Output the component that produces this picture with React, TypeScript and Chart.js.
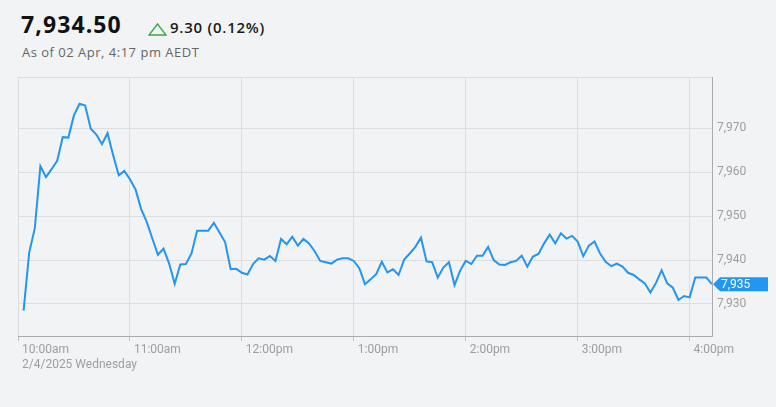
import React, { useEffect, useRef } from "react";
import { Chart, registerables } from "chart.js";

Chart.register(...registerables);

// ---- data ----
const times: string[] = [
  "10:03", "10:06", "10:09", "10:12", "10:15", "10:18", "10:21", "10:24", "10:27", "10:30",
  "10:33", "10:36", "10:39", "10:42", "10:45", "10:48", "10:51", "10:54", "10:57", "11:00",
  "11:03", "11:06", "11:09", "11:12", "11:15", "11:18", "11:21", "11:24", "11:27", "11:30",
  "11:33", "11:36", "11:39", "11:42", "11:45", "11:48", "11:51", "11:54", "11:57", "12:00",
  "12:03", "12:06", "12:09", "12:12", "12:15", "12:18", "12:21", "12:24", "12:27", "12:30",
  "12:33", "12:36", "12:39", "12:42", "12:45", "12:48", "12:51", "12:54", "12:57", "13:00",
  "13:03", "13:06", "13:09", "13:12", "13:15", "13:18", "13:21", "13:24", "13:27", "13:30",
  "13:33", "13:36", "13:39", "13:42", "13:45", "13:48", "13:51", "13:54", "13:57", "14:00",
  "14:03", "14:06", "14:09", "14:12", "14:15", "14:18", "14:21", "14:24", "14:27", "14:30",
  "14:33", "14:36", "14:39", "14:42", "14:45", "14:48", "14:51", "14:54", "14:57", "15:00",
  "15:03", "15:06", "15:09", "15:12", "15:15", "15:18", "15:21", "15:24", "15:27", "15:30",
  "15:33", "15:36", "15:39", "15:42", "15:45", "15:48", "15:51", "15:54", "15:57", "16:00",
  "16:03", "16:06", "16:09", "16:12",
];

const values: number[] = [
  7928.5, 7941.7, 7947.2, 7961.4, 7958.9, 7960.7, 7962.6, 7968.0, 7967.9, 7973.0,
  7975.6, 7975.2, 7969.9, 7968.6, 7966.4, 7968.9, 7963.9, 7959.3, 7960.3, 7958.4,
  7956.1, 7951.6, 7948.7, 7944.9, 7941.2, 7942.6, 7939.2, 7934.6, 7939.0, 7939.1,
  7941.5, 7946.7, 7946.7, 7946.7, 7948.5, 7946.3, 7944.1, 7937.9, 7938.0, 7937.1,
  7936.7, 7939.1, 7940.4, 7940.1, 7940.9, 7939.8, 7944.8, 7943.6, 7945.3, 7943.3,
  7944.8, 7943.8, 7942.0, 7939.8, 7939.5, 7939.2, 7940.1, 7940.4, 7940.4, 7939.8,
  7938.1, 7934.5, 7935.6, 7936.8, 7939.6, 7937.2, 7937.9, 7936.6, 7940.1, 7941.5,
  7943.0, 7945.1, 7939.7, 7939.5, 7936.0, 7938.3, 7939.5, 7934.3, 7937.6, 7939.8,
  7939.1, 7941.0, 7941.0, 7943.0, 7940.0, 7939.0, 7938.9, 7939.5, 7939.8, 7941.0,
  7938.5, 7940.8, 7941.4, 7943.8, 7945.8, 7943.8, 7946.1, 7944.9, 7945.5, 7944.2,
  7940.9, 7943.3, 7944.2, 7941.5, 7939.6, 7938.6, 7939.2, 7938.5, 7937.1, 7936.6,
  7935.6, 7934.7, 7932.6, 7934.8, 7937.7, 7934.7, 7933.7, 7930.9, 7931.8, 7931.5,
  7936.0, 7936.0, 7936.0, 7934.5,
];

const hourTicks: string[] = ["10:00", "11:00", "12:00", "13:00", "14:00", "15:00", "16:00"];
const hourLabels: string[] = ["10:00am", "11:00am", "12:00pm", "1:00pm", "2:00pm", "3:00pm", "4:00pm"];
const dateLabel = "2/4/2025 Wednesday";
const yTicks: number[] = [7930, 7940, 7950, 7960, 7970];
const tagLabel = "7,935";

const priceText = "7,934.50";
const changeText = "9.30 (0.12%)";
const asOfText = "As of 02 Apr, 4:17 pm AEDT";

const X_START = "10:00";
const X_END = "16:12";
const Y_MIN = 7922.7;
const Y_MAX = 7981.7;

const toMin = (t: string) => {
  const [h, m] = t.split(":").map(Number);
  const [h0, m0] = X_START.split(":").map(Number);
  return (h - h0) * 60 + (m - m0);
};

const LINE = "#2196f3";
const GRID = "#dcdddf";
const AXIS = "#a9aaac";
const TEXT = "#9e9e9e";
const BG = "#f2f3f5";

const tagPlugin = {
  id: "lastTag",
  afterDatasetsDraw(chart: any) {
    const { ctx, chartArea } = chart;
    const y = chart.scales.y.getPixelForValue(values[values.length - 1]);
    const x0 = chartArea.right + 1;
    const h = 7;
    ctx.save();
    ctx.fillStyle = LINE;
    ctx.beginPath();
    ctx.moveTo(x0, y);
    ctx.lineTo(x0 + 7, y - h);
    ctx.lineTo(768, y - h);
    ctx.lineTo(768, y + h);
    ctx.lineTo(x0 + 7, y + h);
    ctx.closePath();
    ctx.fill();
    ctx.fillStyle = "#ffffff";
    ctx.font = "12px Roboto";
    ctx.textBaseline = "middle";
    ctx.textAlign = "left";
    ctx.fillText(tagLabel, x0 + 8, y + 0.5);
    ctx.restore();
  },
};

export default function App() {
  const ref = useRef<HTMLCanvasElement | null>(null);

  useEffect(() => {
    if (!ref.current) return;
    const chart = new Chart(ref.current, {
      type: "line",
      data: {
        datasets: [
          {
            data: times.map((t, i) => ({ x: toMin(t), y: values[i] })),
            borderColor: LINE,
            borderWidth: 2,
            pointRadius: 0,
            tension: 0,
            fill: false,
          },
        ],
      },
      options: {
        animation: false,
        responsive: true,
        maintainAspectRatio: false,
        layout: { padding: { left: 18, top: 77, right: 0, bottom: 0 } },
        plugins: { legend: { display: false }, tooltip: { enabled: false } },
        scales: {
          x: {
            type: "linear",
            min: toMin(X_START),
            max: toMin(X_END),
            afterBuildTicks: (s: any) => {
              s.ticks = hourTicks.map((t) => ({ value: toMin(t) }));
            },
            afterFit: (s: any) => {
              s.height = 71;
            },
            ticks: {
              autoSkip: false,
              maxRotation: 0,
              align: "start",
              labelOffset: 4,
              padding: 1,
              color: TEXT,
              font: { family: "Roboto", size: 12, lineHeight: 1.25 },
              callback: (_v: any, i: number) => (i === 0 ? [hourLabels[0], dateLabel] : hourLabels[i]),
            },
            grid: { color: GRID, tickLength: 5, tickColor: "#bdbec0" },
            border: { display: true, color: AXIS, width: 1 },
          },
          y: {
            position: "right",
            min: Y_MIN,
            max: Y_MAX,
            afterBuildTicks: (s: any) => {
              s.ticks = [...yTicks, Y_MAX].map((v) => ({ value: v }));
            },
            afterFit: (s: any) => {
              s.width = 64;
            },
            ticks: {
              padding: 5,
              color: TEXT,
              font: { family: "Roboto", size: 12 },
              callback: (v: any) => (yTicks.includes(v) ? Number(v).toLocaleString("en-US") : ""),
            },
            grid: { color: GRID, drawTicks: false },
            border: { display: true, color: AXIS, width: 1 },
          },
        },
      },
      plugins: [tagPlugin],
    });
    return () => chart.destroy();
  }, []);

  return (
    <div
      style={{
        position: "absolute",
        left: 0,
        top: 0,
        width: 776,
        height: 407,
        background: BG,
        overflow: "hidden",
        fontFamily: "'Open Sans', sans-serif",
      }}
    >
      <div
        style={{
          position: "absolute",
          left: 21,
          top: 12.6,
          fontSize: 23,
          lineHeight: "23px",
          fontWeight: 700,
          color: "#111",
          whiteSpace: "nowrap",
          letterSpacing: 1.1,
        }}
      >
        {priceText}
      </div>
      <svg style={{ position: "absolute", left: 148, top: 23 }} width={19} height={13}>
        <polygon points="9.5,1 18,12 1,12" fill="none" stroke="#3aa84a" strokeWidth={1.4} />
      </svg>
      <div
        style={{
          position: "absolute",
          left: 170,
          top: 20.4,
          fontSize: 15,
          lineHeight: "15px",
          fontWeight: 600,
          color: "#1a1a1a",
          whiteSpace: "nowrap",
          letterSpacing: 0.75,
        }}
      >
        {changeText}
      </div>
      <div
        style={{
          position: "absolute",
          left: 22,
          top: 45.8,
          fontSize: 13,
          lineHeight: "13px",
          color: "#666",
          whiteSpace: "nowrap",
          letterSpacing: 0.5,
        }}
      >
        {asOfText}
      </div>
      <div style={{ position: "absolute", left: 0, top: 0, width: 776, height: 407 }}>
        <canvas ref={ref} />
      </div>
    </div>
  );
}
